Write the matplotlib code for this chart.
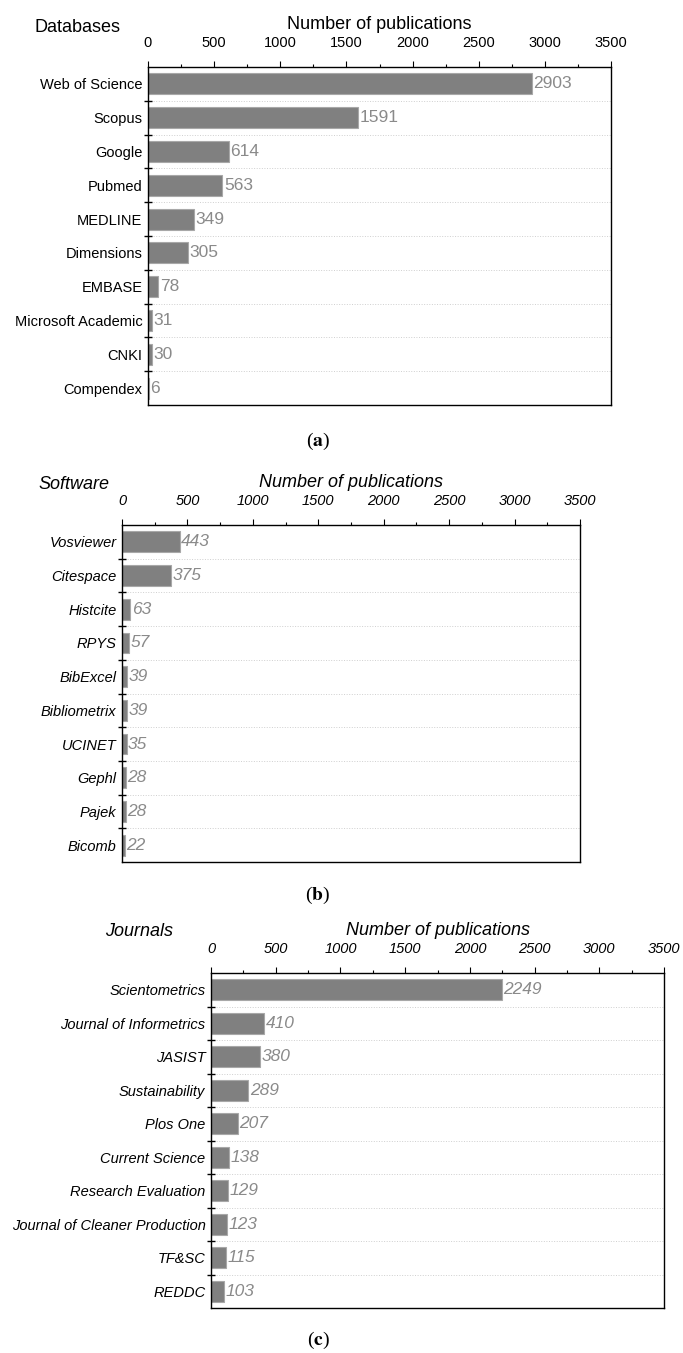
import matplotlib.pyplot as plt
from matplotlib.ticker import MultipleLocator, FixedLocator

plt.rcParams['font.family'] = ['Liberation Sans', 'DejaVu Sans']

# data
databases = ['Web of Science', 'Scopus', 'Google', 'Pubmed', 'MEDLINE',
             'Dimensions', 'EMBASE', 'Microsoft Academic', 'CNKI', 'Compendex']
database_counts = [2903, 1591, 614, 563, 349, 305, 78, 31, 30, 6]

software = ['Vosviewer', 'Citespace', 'Histcite', 'RPYS', 'BibExcel',
            'Bibliometrix', 'UCINET', 'Gephl', 'Pajek', 'Bicomb']
software_counts = [443, 375, 63, 57, 39, 39, 35, 28, 28, 22]

journals = ['Scientometrics', 'Journal of Informetrics', 'JASIST', 'Sustainability',
            'Plos One', 'Current Science', 'Research Evaluation',
            'Journal of Cleaner Production', 'TF&SC', 'REDDC']
journal_counts = [2249, 410, 380, 289, 207, 138, 129, 123, 115, 103]

W, H = 683, 1353
fig = plt.figure(figsize=(W / 100, H / 100), dpi=100)


def px_axes(left, top, right, bottom):
    return fig.add_axes([left / W, 1 - bottom / H, (right - left) / W, (bottom - top) / H])


def panel(ax, names, counts, style):
    n = len(names)
    pos = list(range(n))
    ax.barh(pos, counts, height=0.62, color='#808080', edgecolor='#a8a8a8', linewidth=0.8, zorder=2)
    for p, v in zip(pos, counts):
        ax.annotate(str(v), (v, p), xytext=(1, 0), textcoords='offset points',
                    va='center', ha='left', fontsize=12.5, color='#8a8a8a', style=style)
    ax.set_xlim(0, 3500)
    ax.set_ylim(n - 0.5, -0.5)
    ax.xaxis.tick_top()
    ax.xaxis.set_label_position('top')
    ax.xaxis.set_major_locator(MultipleLocator(500))
    ax.xaxis.set_minor_locator(MultipleLocator(250))
    ax.tick_params(axis='x', which='major', direction='out', length=4, width=0.8, pad=8, labelsize=10.5)
    ax.tick_params(axis='x', which='minor', direction='out', length=2.5, width=0.8)
    for t in ax.get_xticklabels():
        t.set_style(style)
    ax.set_yticks(pos)
    ax.set_yticklabels(names, fontsize=10.5, style=style)
    ax.yaxis.set_minor_locator(FixedLocator([p + 0.5 for p in pos[:-1]]))
    ax.tick_params(axis='y', which='major', length=0, pad=4)
    ax.tick_params(axis='y', which='minor', direction='inout', length=6, width=1.0)
    ax.grid(axis='y', which='minor', linestyle=':', color='#cfcfcf', linewidth=0.7, zorder=0)
    for s in ax.spines.values():
        s.set_linewidth(1.0)
    ax.set_xlabel('Number of publications', fontsize=13, style=style, labelpad=5)


ax1 = px_axes(148, 67, 611, 405)
panel(ax1, databases, database_counts, 'normal')
ax2 = px_axes(122, 525, 580, 862)
panel(ax2, software, software_counts, 'italic')
ax3 = px_axes(211, 973, 664, 1308)
panel(ax3, journals, journal_counts, 'italic')

fig.text(77 / W, 1 - 27 / H, 'Databases', fontsize=13, ha='center', va='center')
fig.text(74 / W, 1 - 485 / H, 'Software', fontsize=13, ha='center', va='center', style='italic')
fig.text(139 / W, 1 - 932 / H, 'Journals', fontsize=13, ha='center', va='center', style='italic')

for letter, y in [('a', 441), ('b', 895), ('c', 1340)]:
    fig.text(318 / W, 1 - y / H, '(' + r'$\mathbf{' + letter + '}$' + ')', fontsize=14,
             ha='center', va='center', family='Liberation Serif', math_fontfamily='stix')

fig.savefig('out.png', dpi=100)
